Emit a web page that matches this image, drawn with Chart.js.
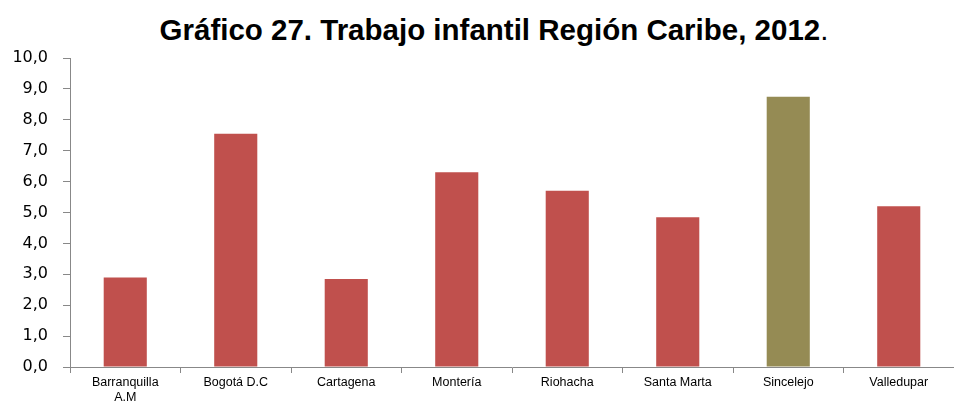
<!DOCTYPE html>
<html>
<head>
<meta charset="utf-8">
<script src="https://cdn.jsdelivr.net/npm/chart.js@4/dist/chart.umd.min.js"></script>
<style>
  body { margin: 0; background: #fff; }
  #wrap { position: relative; width: 954px; height: 406px; }
  #titulo {
    position: absolute; left: 0; top: 13px; width: 988px; text-align: center;
    font-family: "Liberation Sans", Arial, sans-serif; font-size: 29.5px; font-weight: bold; color: #000;
  }
  #titulo span { font-weight: normal; }
  canvas { position: absolute; left: 0; top: 0; }
</style>
</head>
<body>
<div id="wrap">
  <div id="titulo">Gráfico 27. Trabajo infantil Región Caribe, 2012<span>.</span></div>
  <canvas id="chart1" width="954" height="406"></canvas>
</div>
<script>
// ciudades y valores (%)
var ciudades = [["Barranquilla", "A.M"], "Bogotá D.C", "Cartagena", "Montería", "Riohacha", "Santa Marta", "Sincelejo", "Valledupar"]
var trabajo = [2.9, 7.55, 2.85, 6.3, 5.7, 4.85, 8.75, 5.2]
var destacada = "Sincelejo"
var yTicks = [0, 1, 2, 3, 4, 5, 6, 7, 8, 9, 10]

var rojo = "#C0504D"
var oliva = "#958B54"
var colores = ciudades.map(function(c){ return c == destacada ? oliva : rojo })
var ejeColor = "#888888"

const ctx = document.getElementById('chart1');
new Chart(ctx, {
  type: "bar",
  data: {
    labels: ciudades,
    datasets: [{
      data: trabajo,
      backgroundColor: colores,
      borderWidth: 0,
      barPercentage: 0.39,
      categoryPercentage: 1
    }]
  },
  options: {
    responsive: false,
    animation: false,
    layout: { padding: { top: 58, right: 0, left: 0, bottom: 0 } },
    plugins: { legend: { display: false }, tooltip: { enabled: false } },
    scales: {
      x: {
        afterFit: function(axis){ axis.height = 39 },
        grid: { display: true, drawOnChartArea: false, offset: true, color: ejeColor, tickLength: 6 },
        border: { color: ejeColor },
        ticks: {
          color: "#000",
          font: { family: "Liberation Sans, sans-serif", size: 12.5, lineHeight: 1.2 },
          maxRotation: 0, padding: 2
        }
      },
      y: {
        min: 0, max: 10,
        afterBuildTicks: function(axis){ axis.ticks = yTicks.map(function(v){ return { value: v } }) },
        afterFit: function(axis){ axis.width = 70 },
        grid: { display: true, drawOnChartArea: false, color: ejeColor, tickLength: 7 },
        border: { color: ejeColor },
        ticks: {
          color: "#000",
          font: { family: "DejaVu Sans, sans-serif", size: 16 },
          padding: 15,
          callback: function(v){ return v.toFixed(1).replace('.', ',') }
        }
      }
    }
  }
});
</script>
</body>
</html>
